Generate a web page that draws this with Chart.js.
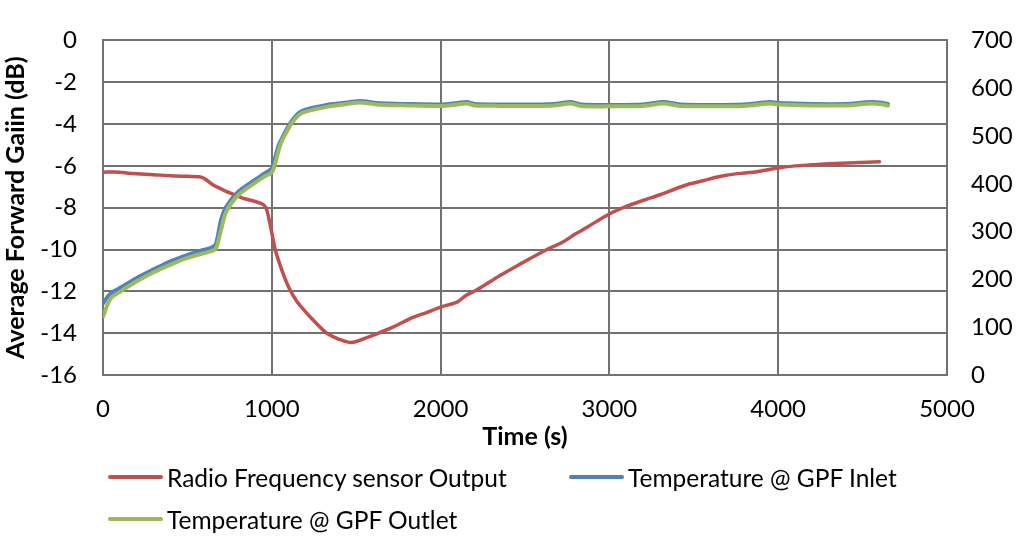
<!DOCTYPE html>
<html>
<head>
<meta charset="utf-8">
<script src="https://cdn.jsdelivr.net/npm/chart.js@4.4.1/dist/chart.umd.min.js"></script>
<style>
	body { margin: 0; background: #fff; }
	#wrap { position: relative; width: 1020px; height: 536px; }
	#legend { position: absolute; left: 0; top: 0; font-family: Lato, sans-serif; font-size: 24.5px; color: #000; }
	.item { position: absolute; display: flex; align-items: center; white-space: nowrap; }
	.swatch { width: 55px; height: 4px; margin-right: 4px; border-radius: 2px; }
</style>
</head>
<body>
<div id="wrap">
	<canvas id="myChart" width="1020" height="536"></canvas>
	<div id="legend"></div>
</div>
<script>
// RF sensor gain (dB, left axis)
var rfTime = [0, 100, 150, 200, 300, 400, 500, 570, 600, 650, 700, 740, 800, 840, 900, 950, 970, 1000, 1020, 1060, 1100, 1150, 1225, 1325, 1400, 1460, 1500, 1600, 1720, 1820, 1920, 2000, 2100, 2150, 2220, 2350, 2470, 2630, 2725, 2800, 2870, 3000, 3100, 3200, 3300, 3400, 3460, 3560, 3660, 3760, 3850, 4000, 4100, 4200, 4300, 4450, 4600];
var rfGain = [-6.3, -6.3, -6.35, -6.38, -6.42, -6.47, -6.5, -6.52, -6.6, -6.9, -7.1, -7.26, -7.45, -7.57, -7.7, -7.85, -8.1, -9.2, -10.0, -11.0, -11.8, -12.5, -13.2, -14.0, -14.3, -14.44, -14.4, -14.1, -13.7, -13.3, -13.0, -12.75, -12.5, -12.2, -11.9, -11.25, -10.7, -10.0, -9.64, -9.25, -8.92, -8.3, -7.94, -7.65, -7.38, -7.07, -6.9, -6.7, -6.5, -6.37, -6.3, -6.1, -6.0, -5.95, -5.9, -5.85, -5.8];

// GPF temperatures (right axis)
var tempTime = [0, 30, 50, 100, 200, 300, 400, 500, 600, 650, 670, 700, 730, 800, 900, 950, 1000, 1020, 1040, 1060, 1090, 1120, 1160, 1200, 1325, 1420, 1520, 1560, 1620, 1800, 2000, 2100, 2155, 2200, 2350, 2600, 2700, 2770, 2830, 3000, 3200, 3320, 3420, 3600, 3800, 3950, 4000, 4200, 4400, 4550, 4600, 4650];
var inletTemp = [150, 165, 172, 182, 203, 221, 238, 251, 262, 268, 275, 325, 352, 383, 408, 420, 432, 455, 480, 495, 515, 532, 548, 555, 565, 569, 573, 572, 569, 567, 566, 569, 571, 567, 566, 566, 568, 571, 566, 565, 566, 571, 566, 565, 566, 571, 569, 567, 567, 571, 570, 567];
var outletTemp = [122, 150, 162, 174, 196, 215, 231, 245, 255, 260, 265, 305, 342, 376, 402, 414, 424, 442, 470, 490, 510, 528, 544, 551, 561, 566, 570, 569, 566, 564, 563, 566, 568, 564, 563, 563, 565, 568, 563, 562, 563, 568, 563, 562, 563, 568, 566, 564, 564, 568, 567, 564];

var xTicks = [0, 1000, 2000, 3000, 4000, 5000];

var seriesNames = ["Radio Frequency sensor Output", "Temperature @ GPF Inlet", "Temperature @ GPF Outlet"];
var seriesColors = ["#c0504d", "#4f81bd", "#9bbb59"];

function pairs(xs, ys) {
	var out = [];
	for (var i = 0; i < xs.length; i++) out.push({ x: xs[i], y: ys[i] });
	return out;
}

var gridColor = "#727272";
var tickFont = { family: "Lato", size: 24 };

var ctx = document.getElementById("myChart").getContext("2d");
var myChart = new Chart(ctx, {
	type: "line",
	data: {
		datasets: [
			{
				label: seriesNames[0],
				data: pairs(rfTime, rfGain),
				borderColor: seriesColors[0],
				borderWidth: 3.5,
				yAxisID: "y",
				order: 2,
			},
			{
				label: seriesNames[1],
				data: pairs(tempTime, inletTemp),
				borderColor: seriesColors[1],
				borderWidth: 4,
				yAxisID: "y1",
				order: 1,
			},
			{
				label: seriesNames[2],
				data: pairs(tempTime, outletTemp),
				borderColor: seriesColors[2],
				borderWidth: 4,
				yAxisID: "y1",
				order: 0,
			},
		],
	},
	options: {
		responsive: false,
		animation: false,
		elements: { point: { radius: 0 }, line: { tension: 0.3, borderCapStyle: "round", borderJoinStyle: "round" } },
		layout: { padding: { top: 18, left: 0, right: 0, bottom: 84 } },
		plugins: { legend: { display: false }, tooltip: { enabled: false } },
		scales: {
			x: {
				type: "linear",
				min: 0,
				max: 5000,
				afterBuildTicks: function (axis) {
					axis.ticks = xTicks.map(function (v) { return { value: v }; });
				},
				afterFit: function (axis) { axis.height = 77; },
				grid: { color: gridColor, lineWidth: 2, drawTicks: false },
				border: { color: gridColor, width: 2 },
				ticks: {
					color: "#000",
					font: tickFont,
					padding: 20,
					maxRotation: 0,
					callback: function (v) { return String(v); },
				},
				title: { display: true, text: "Time (s)", color: "#000", font: { family: "Lato", size: 25, weight: "bold" }, padding: { top: 0, bottom: 0 } },
			},
			y: {
				position: "left",
				min: -16,
				max: 0,
				ticks: { stepSize: 2, color: "#000", font: tickFont, padding: 26 },
				afterFit: function (axis) { axis.width = 103; },
				grid: { color: gridColor, lineWidth: 2, drawTicks: false },
				border: { color: gridColor, width: 2 },
				title: { display: true, text: "Average Forward Gaiin (dB)", color: "#000", font: { family: "Lato", size: 25, weight: "bold" }, padding: { top: 1, bottom: 0 } },
			},
			y1: {
				position: "right",
				min: 0,
				max: 700,
				ticks: { stepSize: 100, color: "#000", font: tickFont, padding: 24 },
				afterFit: function (axis) { axis.width = 73; },
				grid: { drawOnChartArea: false, drawTicks: false },
				border: { color: gridColor, width: 2 },
			},
		},
	},
});

// legend laid out in two rows like the original figure
var legendPos = [
	{ left: 108, top: 477 },
	{ left: 569, top: 477 },
	{ left: 108, top: 519 },
];
var legend = document.getElementById("legend");
for (var i = 0; i < seriesNames.length; i++) {
	var item = document.createElement("div");
	item.className = "item";
	item.style.left = legendPos[i].left + "px";
	item.style.top = legendPos[i].top - 16 + "px";
	item.style.height = "32px";
	var sw = document.createElement("span");
	sw.className = "swatch";
	sw.style.background = seriesColors[i];
	var txt = document.createElement("span");
	txt.textContent = seriesNames[i];
	item.appendChild(sw);
	item.appendChild(txt);
	legend.appendChild(item);
}
</script>
</body>
</html>
